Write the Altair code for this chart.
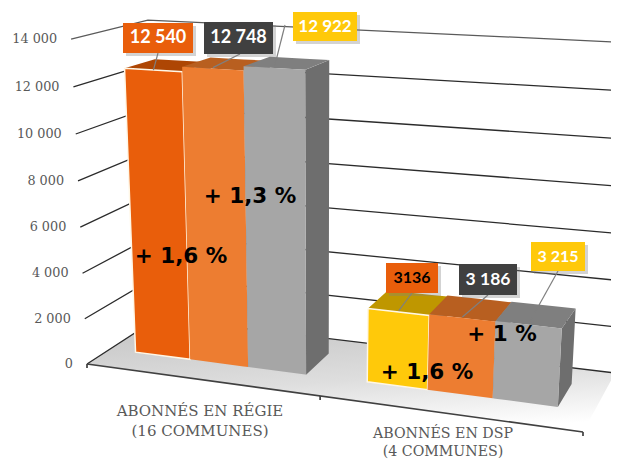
import altair as alt
import pandas as pd

# ---- data ----
group_names = [["ABONNÉS EN RÉGIE", "(16 COMMUNES)"], ["ABONNÉS EN DSP", "(4 COMMUNES)"]]
values_regie = [12540, 12748, 12922]
values_dsp = [3136, 3186, 3215]
labels_regie = ["12 540", "12 748", "12 922"]
labels_dsp = ["3136", "3 186", "3 215"]
tick_values = [0, 2000, 4000, 6000, 8000, 10000, 12000, 14000]
tick_labels = ["0", "2 000", "4 000", "6 000", "8 000", "10 000", "12 000", "14 000"]
growth_labels = ["+ 1,6 %", "+ 1,3 %", "+ 1,6 %", "+ 1 %"]

# ---- styles ----
regie_front = ["#E95E0B", "#ED7D31", "#A6A6A6"]
regie_top = ["#AE4604", "#B85F20", "#7F7F7F"]
dsp_front = ["#FFC90A", "#ED7D31", "#A6A6A6"]
dsp_top = ["#BF9700", "#B85F20", "#7F7F7F"]
side_color = "#6E6E6E"
box_fill = ["#E95E0B", "#404040", "#FFC90A"]
W, H = 603, 453
SX = alt.Scale(domain=[8, 8 + W])
SY = alt.Scale(domain=[8 + H, 8])

# floor corners of the 3D scene
FL, FR, BL, BR = (87, 364), (583, 432), (158, 318), (615, 373)


def floor(u, d):
    fx = FL[0] + u * (FR[0] - FL[0]); fy = FL[1] + u * (FR[1] - FL[1])
    bx = BL[0] + u * (BR[0] - BL[0]); by = BL[1] + u * (BR[1] - BL[1])
    return fx + d * (bx - fx), fy + d * (by - fy)


def project(u, d, value):
    bx, by = floor(u, d)
    v = value / 1000
    h = (22.5 * v + 0.05 * v * v) * (1 + 0.0018 * (by - 364))
    lean = -0.049 + 0.00021 * (bx - 87)
    return bx + lean * h, by - h


def polygon_df(pts):
    xs = sorted({round(p[0], 3) for p in pts})
    rows = []
    n = len(pts)
    for x in xs:
        ys = []
        for i in range(n):
            (x0, y0), (x1, y1) = pts[i], pts[(i + 1) % n]
            lo, hi = min(x0, x1), max(x0, x1)
            if lo - 1e-3 <= x <= hi + 1e-3:
                if abs(x1 - x0) < 1e-6:
                    ys += [y0, y1]
                else:
                    ys.append(y0 + (x - x0) / (x1 - x0) * (y1 - y0))
        rows.append({"x": x, "y": min(ys), "y2": max(ys)})
    return pd.DataFrame(rows)


def poly(pts, fill):
    return alt.Chart(polygon_df(pts)).mark_area(color=fill, clip=True, interpolate="linear").encode(
        x=alt.X("x:Q", scale=SX, axis=None),
        y=alt.Y("y:Q", scale=SY, axis=None),
        y2="y2:Q",
    )


def line(pts, color, width, opacity=1.0):
    df = pd.DataFrame([{"x": p[0], "y": p[1], "o": i} for i, p in enumerate(pts)])
    return alt.Chart(df).mark_line(color=color, strokeWidth=width, opacity=opacity, clip=True).encode(
        x=alt.X("x:Q", scale=SX, axis=None),
        y=alt.Y("y:Q", scale=SY, axis=None),
        order="o:Q",
    )


def text(x, y, s, size, color, align="center", font="Lato", weight="normal"):
    df = pd.DataFrame([{"x": x, "y": y, "t": s}])
    return alt.Chart(df).mark_text(
        fontSize=size, color=color, align=align, baseline="middle", font=font, fontWeight=weight
    ).encode(
        x=alt.X("x:Q", scale=SX, axis=None),
        y=alt.Y("y:Q", scale=SY, axis=None),
        text="t:N",
    )


def box(x0, y0, x1, y1, fill, opacity=1.0):
    df = pd.DataFrame([{"x": x0, "x2": x1, "y": y0, "y2": y1}])
    return alt.Chart(df).mark_rect(color=fill, opacity=opacity).encode(
        x=alt.X("x:Q", scale=SX, axis=None),
        x2="x2:Q",
        y=alt.Y("y:Q", scale=SY, axis=None),
        y2="y2:Q",
    )


layers = []

# floor
floor_fill = alt.Gradient(
    gradient="linear",
    stops=[
        alt.GradientStop(color="#C6C6C6", offset=0),
        alt.GradientStop(color="#DEDEDE", offset=0.55),
        alt.GradientStop(color="#FFFFFF", offset=1),
    ],
    x1=0.35, y1=0, x2=0.62, y2=1,
)
layers.append(poly([FL, BL, BR, FR], floor_fill))

# gridlines: front-left corner, back-left corner, back-right corner
for tv in tick_values:
    pts = [project(0, 0, tv), project(0, 1, tv), project(1, 1, tv)]
    top = tv == max(tick_values)
    layers.append(line(pts, "#5A5A5A" if top else "#2B2B2B", 1.3 if not top else 1.2))

# bars
D0 = {0: 0.33, 1: 0.345}
D1 = 0.74
U = {0: [0.052, 0.165, 0.285, 0.405], 1: [0.53, 0.655, 0.79, 0.925]}
groups = [(values_regie, regie_front, regie_top), (values_dsp, dsp_front, dsp_top)]
tops = []
for g, (vals, fronts, topc) in enumerate(groups):
    d0 = D0[g]
    for i, v in enumerate(vals):
        u0, u1 = U[g][i], U[g][i + 1]
        a0, a1 = project(u0, d0, 0), project(u1, d0, 0)
        b1 = project(u1, D1, 0)
        t0, t1 = project(u0, d0, v), project(u1, d0, v)
        s0, s1 = project(u0, D1, v), project(u1, D1, v)
        layers.append(poly([t1, s1, b1, a1], side_color))
        layers.append(poly([t0, s0, s1, t1], topc[i]))
        layers.append(poly([t0, t1, a1, a0], fronts[i]))
        if i == 0:
            stroke = "#FFF7E6"
            layers.append(line([t0, t1, a1, a0, t0], stroke, 1.5))
        tops.append(((t0[0] + t1[0]) / 2, (t0[1] + t1[1]) / 2))

# front axis with ticks
layers.append(line([FL, FR], "#404040", 1.7))
for u in [0, 0.47, 1]:
    p = floor(u, 0)
    layers.append(line([p, (p[0], p[1] + 4)], "#404040", 1.7))

# y tick labels
for tv, lab in zip(tick_values, tick_labels):
    x, y = project(0, 0, tv)
    layers.append(text(x - 14, y, lab, 12.8, "#595959", align="right", font="DejaVu Serif"))

# category labels
for (l1, l2), (cx, y1, y2, fs) in zip(group_names, [(200, 411, 431, 15), (443, 434, 452, 14.2)]):
    layers.append(text(cx, y1, l1, fs, "#595959", font="DejaVu Serif"))
    layers.append(text(cx, y2, l2, fs, "#595959", font="DejaVu Serif"))

# value callouts
boxes = [
    (123, 23, 193, 53), (204, 22, 273, 54), (293, 12, 357, 41),
    (386, 263, 438, 293), (459, 264, 517, 295), (531, 242, 585, 271),
]
anchors = [(158, 53), (240, 54), (285, 25), (412, 293), (488, 295), (558, 271)]
all_labels = labels_regie + labels_dsp
text_colors = ["white", "white", "white", "black", "white", "white"]
text_sizes = [18, 18, 17, 16, 17.5, 16]
for k, (an, tp) in enumerate(zip(anchors, tops)):
    layers.append(line([an, (tp[0], tp[1] - (1 if k else 0))], "#7F7F7F", 1.2))
for k, (b, lab, tc, ts) in enumerate(zip(boxes, all_labels, text_colors, text_sizes)):
    layers.append(box(b[0] + 3, b[1] + 3, b[2] + 3, b[3] + 3, "#808080", 0.35))
    layers.append(box(b[0], b[1], b[2], b[3], box_fill[k % 3]))
    layers.append(text((b[0] + b[2]) / 2, (b[1] + b[3]) / 2, lab, ts, tc, font="Lato", weight="bold"))

# growth annotations
for lab, (x, y) in zip(growth_labels, [(181, 257), (250, 197), (427, 373), (502, 335)]):
    layers.append(text(x, y, lab, 21.5, "#000000", font="DejaVu Sans", weight="bold"))

chart = (
    alt.layer(*layers)
    .properties(width=W, height=H, padding=0, autosize=alt.AutoSizeParams(type="none"),
                background="white")
    .configure_view(stroke=None)
)
chart.save("out.html", embed_options={"renderer": "svg", "actions": False})
